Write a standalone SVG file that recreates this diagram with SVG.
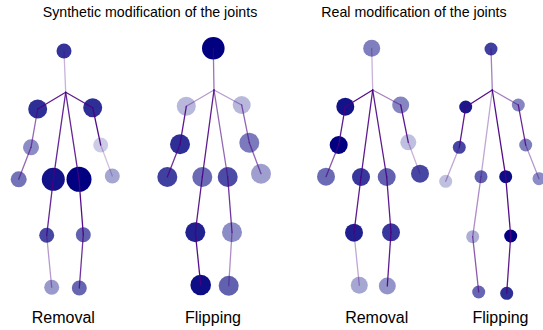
<svg xmlns="http://www.w3.org/2000/svg" width="543" height="330" viewBox="0 0 543 330">
<style>
text{font-family:"Liberation Sans",Arial,sans-serif;fill:#000;text-anchor:middle}
.t{font-size:14.2px}
.l{font-size:16px}
circle{fill:#000080;stroke:none}
line{stroke:#4b0082;stroke-width:1.3;stroke-linecap:round}
</style>
<rect width="543" height="330" fill="#fff"/>
<text class="t" x="150" y="17">Synthetic modification of the joints</text>
<text class="t" x="414" y="17">Real modification of the joints</text>

<g id="skeleton1">
<circle cx="64" cy="51" r="7.5" fill-opacity="0.8"/>
<circle cx="37.7" cy="109" r="9.5" fill-opacity="0.82"/>
<circle cx="92.7" cy="107.7" r="9.5" fill-opacity="0.82"/>
<circle cx="31" cy="147.3" r="8" fill-opacity="0.45"/>
<circle cx="100.7" cy="145" r="7.5" fill-opacity="0.2"/>
<circle cx="18.7" cy="179.3" r="8" fill-opacity="0.55"/>
<circle cx="112.3" cy="176" r="7.5" fill-opacity="0.35"/>
<circle cx="53.3" cy="179.3" r="11.5" fill-opacity="0.93"/>
<circle cx="79" cy="179.3" r="12.5" fill-opacity="1"/>
<circle cx="46.7" cy="235.3" r="7.5" fill-opacity="0.72"/>
<circle cx="83.3" cy="234.7" r="7.5" fill-opacity="0.62"/>
<circle cx="51.7" cy="287.3" r="7.5" fill-opacity="0.4"/>
<circle cx="79.3" cy="288" r="7.5" fill-opacity="0.6"/>
</g>
<g id="skeleton2">
<circle cx="213.3" cy="48.3" r="11.3" fill-opacity="1"/>
<circle cx="186.3" cy="106.3" r="9.5" fill-opacity="0.28"/>
<circle cx="241.7" cy="105" r="9" fill-opacity="0.28"/>
<circle cx="180" cy="144.3" r="10" fill-opacity="0.82"/>
<circle cx="249.3" cy="142.7" r="10" fill-opacity="0.52"/>
<circle cx="167.3" cy="177" r="10" fill-opacity="0.75"/>
<circle cx="261" cy="173.7" r="10" fill-opacity="0.38"/>
<circle cx="202.3" cy="177" r="10" fill-opacity="0.58"/>
<circle cx="227.7" cy="177" r="10" fill-opacity="0.7"/>
<circle cx="195.3" cy="232.3" r="10" fill-opacity="0.87"/>
<circle cx="232" cy="232.3" r="10" fill-opacity="0.45"/>
<circle cx="200.7" cy="285" r="10.3" fill-opacity="0.95"/>
<circle cx="228.7" cy="285.7" r="10" fill-opacity="0.62"/>
</g>
<g id="skeleton3">
<circle cx="371.7" cy="48.3" r="8.5" fill-opacity="0.5"/>
<circle cx="345.3" cy="106.7" r="9" fill-opacity="0.93"/>
<circle cx="400.7" cy="105" r="8.5" fill-opacity="0.48"/>
<circle cx="338.7" cy="145" r="9" fill-opacity="1"/>
<circle cx="408.3" cy="142.3" r="8" fill-opacity="0.25"/>
<circle cx="326" cy="176.7" r="9" fill-opacity="0.58"/>
<circle cx="420" cy="173.7" r="9" fill-opacity="0.72"/>
<circle cx="361" cy="177" r="9" fill-opacity="0.78"/>
<circle cx="386.7" cy="177" r="9" fill-opacity="0.62"/>
<circle cx="354" cy="232.7" r="9" fill-opacity="0.88"/>
<circle cx="391" cy="232.3" r="9" fill-opacity="0.78"/>
<circle cx="359.3" cy="285.3" r="8.5" fill-opacity="0.35"/>
<circle cx="387.3" cy="286" r="8.5" fill-opacity="0.42"/>
</g>
<g id="skeleton4">
<circle cx="491" cy="49" r="6.5" fill-opacity="0.75"/>
<circle cx="465.7" cy="107" r="6.5" fill-opacity="0.9"/>
<circle cx="518.3" cy="105" r="6.5" fill-opacity="0.48"/>
<circle cx="459.3" cy="147.3" r="6.5" fill-opacity="0.72"/>
<circle cx="525.7" cy="145" r="6.5" fill-opacity="0.5"/>
<circle cx="445.7" cy="181.3" r="6.5" fill-opacity="0.25"/>
<circle cx="539" cy="178.7" r="6.5" fill-opacity="0.45"/>
<circle cx="481" cy="176.7" r="6.5" fill-opacity="0.62"/>
<circle cx="505.7" cy="176.7" r="6.5" fill-opacity="0.95"/>
<circle cx="472.7" cy="236.7" r="6.5" fill-opacity="0.32"/>
<circle cx="510.7" cy="236" r="6.5" fill-opacity="1"/>
<circle cx="478.7" cy="292" r="6.5" fill-opacity="0.6"/>
<circle cx="506.7" cy="293.3" r="6.5" fill-opacity="0.82"/>
</g>

<g id="connectors">
<!-- skeleton 1 -->
<line x1="65.7" y1="92.3" x2="64" y2="51" stroke-opacity="0.3"/>
<line x1="65.7" y1="92.3" x2="37.7" y2="109" stroke-opacity="0.9"/>
<line x1="65.7" y1="92.3" x2="92.7" y2="107.7" stroke-opacity="0.9"/>
<line x1="37.7" y1="109" x2="31" y2="147.3" stroke-opacity="0.6"/>
<line x1="31" y1="147.3" x2="18.7" y2="179.3" stroke-opacity="0.6"/>
<line x1="92.7" y1="107.7" x2="100.7" y2="145" stroke-opacity="0.95"/>
<line x1="100.7" y1="145" x2="112.3" y2="176" stroke-opacity="0.25"/>
<line x1="65.7" y1="92.3" x2="53.3" y2="179.3" stroke-opacity="0.85"/>
<line x1="65.7" y1="92.3" x2="79" y2="179.3" stroke-opacity="0.85"/>
<line x1="53.3" y1="179.3" x2="46.7" y2="235.3" stroke-opacity="0.85"/>
<line x1="46.7" y1="235.3" x2="51.7" y2="287.3" stroke-opacity="0.4"/>
<line x1="79" y1="179.3" x2="83.3" y2="234.7" stroke-opacity="0.95"/>
<line x1="83.3" y1="234.7" x2="79.3" y2="288" stroke-opacity="0.8"/>
<!-- skeleton 2 -->
<line x1="214" y1="90" x2="213.3" y2="48.3" stroke-opacity="0.55"/>
<line x1="214" y1="90" x2="186.3" y2="106.3" stroke-opacity="0.4"/>
<line x1="214" y1="90" x2="241.7" y2="105" stroke-opacity="0.4"/>
<line x1="186.3" y1="106.3" x2="180" y2="144.3" stroke-opacity="0.9"/>
<line x1="180" y1="144.3" x2="167.3" y2="177" stroke-opacity="0.8"/>
<line x1="241.7" y1="105" x2="249.3" y2="142.7" stroke-opacity="0.6"/>
<line x1="249.3" y1="142.7" x2="261" y2="173.7" stroke-opacity="0.6"/>
<line x1="214" y1="90" x2="202.3" y2="177" stroke-opacity="0.9"/>
<line x1="214" y1="90" x2="227.7" y2="177" stroke-opacity="0.6"/>
<line x1="202.3" y1="177" x2="195.3" y2="232.3" stroke-opacity="0.9"/>
<line x1="195.3" y1="232.3" x2="200.7" y2="285" stroke-opacity="0.95"/>
<line x1="227.7" y1="177" x2="232" y2="232.3" stroke-opacity="0.8"/>
<line x1="232" y1="232.3" x2="228.7" y2="285.7" stroke-opacity="0.45"/>
<!-- skeleton 3 -->
<line x1="372.7" y1="90" x2="371.7" y2="48.3" stroke-opacity="0.3"/>
<line x1="372.7" y1="90" x2="345.3" y2="106.7" stroke-opacity="0.95"/>
<line x1="372.7" y1="90" x2="400.7" y2="105" stroke-opacity="0.5"/>
<line x1="345.3" y1="106.7" x2="338.7" y2="145" stroke-opacity="0.9"/>
<line x1="338.7" y1="145" x2="326" y2="176.7" stroke-opacity="0.65"/>
<line x1="400.7" y1="105" x2="408.3" y2="142.3" stroke-opacity="0.9"/>
<line x1="408.3" y1="142.3" x2="420" y2="173.7" stroke-opacity="0.3"/>
<line x1="372.7" y1="90" x2="361" y2="177" stroke-opacity="0.9"/>
<line x1="372.7" y1="90" x2="386.7" y2="177" stroke-opacity="0.9"/>
<line x1="361" y1="177" x2="354" y2="232.7" stroke-opacity="0.9"/>
<line x1="354" y1="232.7" x2="359.3" y2="285.3" stroke-opacity="0.35"/>
<line x1="386.7" y1="177" x2="391" y2="232.3" stroke-opacity="0.9"/>
<line x1="391" y1="232.3" x2="387.3" y2="286" stroke-opacity="0.9"/>
<!-- skeleton 4 -->
<line x1="492.3" y1="90" x2="491" y2="49" stroke-opacity="0.5"/>
<line x1="492.3" y1="90" x2="465.7" y2="107" stroke-opacity="0.95"/>
<line x1="492.3" y1="90" x2="518.3" y2="105" stroke-opacity="0.5"/>
<line x1="465.7" y1="107" x2="459.3" y2="147.3" stroke-opacity="0.9"/>
<line x1="459.3" y1="147.3" x2="445.7" y2="181.3" stroke-opacity="0.35"/>
<line x1="518.3" y1="105" x2="525.7" y2="145" stroke-opacity="0.85"/>
<line x1="525.7" y1="145" x2="539" y2="178.7" stroke-opacity="0.4"/>
<line x1="492.3" y1="90" x2="481" y2="176.7" stroke-opacity="0.35"/>
<line x1="492.3" y1="90" x2="505.7" y2="176.7" stroke-opacity="0.95"/>
<line x1="481" y1="176.7" x2="472.7" y2="236.7" stroke-opacity="0.45"/>
<line x1="472.7" y1="236.7" x2="478.7" y2="292" stroke-opacity="0.65"/>
<line x1="505.7" y1="176.7" x2="510.7" y2="236" stroke-opacity="0.95"/>
<line x1="510.7" y1="236" x2="506.7" y2="293.3" stroke-opacity="0.9"/>
</g>

<text class="l" x="63.3" y="322.5">Removal</text>
<text class="l" x="213" y="322.5">Flipping</text>
<text class="l" x="376.7" y="322.5">Removal</text>
<text class="l" x="500.5" y="322.5">Flipping</text>
</svg>
